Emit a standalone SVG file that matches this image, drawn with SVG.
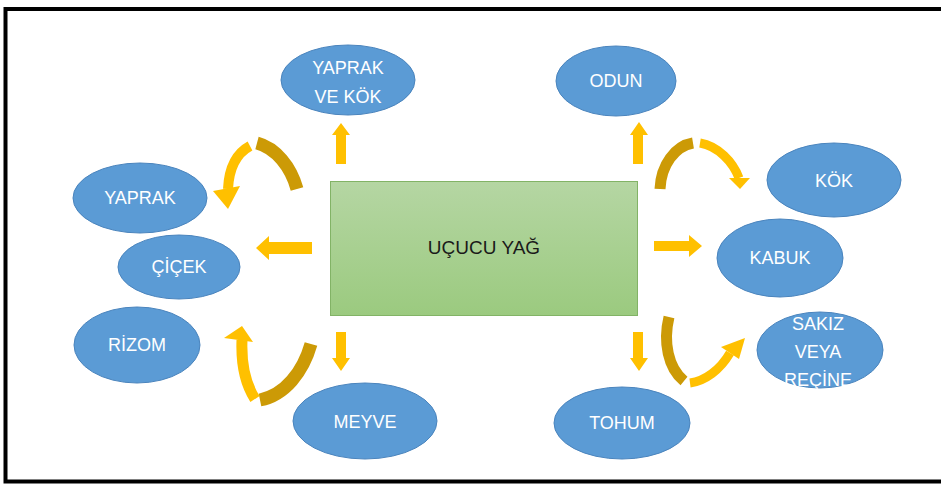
<svg xmlns="http://www.w3.org/2000/svg" width="941" height="484" viewBox="0 0 941 484">
<defs>
<linearGradient id="g" x1="0" y1="0" x2="0" y2="1">
<stop offset="0" stop-color="#b5d6a3"/>
<stop offset="1" stop-color="#9bca7f"/>
</linearGradient>
<style>
.n{fill:#5b9bd5;stroke:#4a84bd;stroke-width:1}
.t{font-family:"Liberation Sans",Arial,sans-serif;font-size:18px;fill:#fff;text-anchor:middle;dominant-baseline:central}
.y{fill:#ffc000}
.d{fill:none;stroke:#cc9a06;stroke-linecap:butt}
.l{fill:none;stroke:#ffc000;stroke-linecap:butt}
</style>
</defs>
<rect x="0" y="0" width="941" height="484" fill="#fff"/>
<rect x="5.5" y="9" width="945" height="472.5" fill="none" stroke="#000" stroke-width="4"/>
<g id="center">
<rect x="330.5" y="181.5" width="307" height="134" fill="url(#g)" stroke="#82b366" stroke-width="1"/>
<text x="484" y="247" font-family="Liberation Sans,Arial,sans-serif" font-size="19" fill="#1a1a1a" text-anchor="middle" dominant-baseline="central">UÇUCU YAĞ</text>
</g>
<g id="yaprak-ve-kok"><ellipse class="n" cx="348" cy="80" rx="67" ry="35"/><text class="t" x="348" y="68">YAPRAK</text><text class="t" x="348" y="97">VE KÖK</text></g>
<g id="odun"><ellipse class="n" cx="616" cy="81" rx="60" ry="35"/><text class="t" x="616" y="81">ODUN</text></g>
<g id="kok"><ellipse class="n" cx="834" cy="180" rx="67" ry="37"/><text class="t" x="834" y="181">KÖK</text></g>
<g id="kabuk"><ellipse class="n" cx="780" cy="258" rx="63" ry="39"/><text class="t" x="780" y="258">KABUK</text></g>
<g id="sakiz"><ellipse class="n" cx="820" cy="350" rx="63" ry="38"/><text class="t" x="818" y="324" font-size="20">SAKIZ</text><text class="t" x="818" y="352" font-size="20">VEYA</text><text class="t" x="818" y="380" font-size="20">REÇİNE</text></g>
<g id="tohum"><ellipse class="n" cx="622" cy="423" rx="68" ry="36"/><text class="t" x="622" y="423">TOHUM</text></g>
<g id="meyve"><ellipse class="n" cx="365" cy="421" rx="72" ry="38"/><text class="t" x="365" y="422">MEYVE</text></g>
<g id="rizom"><ellipse class="n" cx="137" cy="345" rx="63" ry="38"/><text class="t" x="137" y="345">RİZOM</text></g>
<g id="cicek"><ellipse class="n" cx="179" cy="267" rx="61" ry="32"/><text class="t" x="179" y="267">ÇİÇEK</text></g>
<g id="yaprak"><ellipse class="n" cx="140" cy="198" rx="67" ry="35"/><text class="t" x="140" y="198">YAPRAK</text></g>
<g id="connectors">
<polygon class="y" points="336,164 346,164 346,135 350,135 341,123 332,135 336,135"/>
<polygon class="y" points="312,242 312,254 269,254 269,260 256,248 269,236 269,242"/>
<polygon class="y" points="633,164 643,164 643,135 648,135 639,122 630,135 633,135"/>
<polygon class="y" points="654,241 654,251 689,251 689,257 702,246 689,235 689,241"/>
<polygon class="y" points="336,332 346,332 346,358 350,358 341,371 332,358 336,358"/>
<polygon class="y" points="633,332 643,332 643,358 648,358 639,371 630,358 633,358"/>
<path class="d" d="M297 189 C291 167 276 148 257 143" stroke-width="13"/>
<path class="l" d="M250 146 C237 153 229 168 228 189" stroke-width="10"/>
<polygon class="y" points="213,191 240,186 228,209"/>
<path class="d" d="M660 189 C661 165 675 146 693 143" stroke-width="11"/>
<path class="l" d="M700 143 C718 146 733 162 739 178" stroke-width="9"/>
<polygon class="y" points="729,178 750,178 740,189"/>
<path class="d" d="M311 344 C303 372 285 395 260 400" stroke-width="13"/>
<path class="l" d="M255 399 C246 385 241 365 242 340" stroke-width="11"/>
<polygon class="y" points="224,338 253,342 242,326"/>
<path class="d" d="M669 317 C663 342 668 368 684 381" stroke-width="11"/>
<path class="l" d="M690 383 C705 381 720 370 730 353" stroke-width="9"/>
<polygon class="y" points="721,347 739,359 745,338"/>
</g>
</svg>
